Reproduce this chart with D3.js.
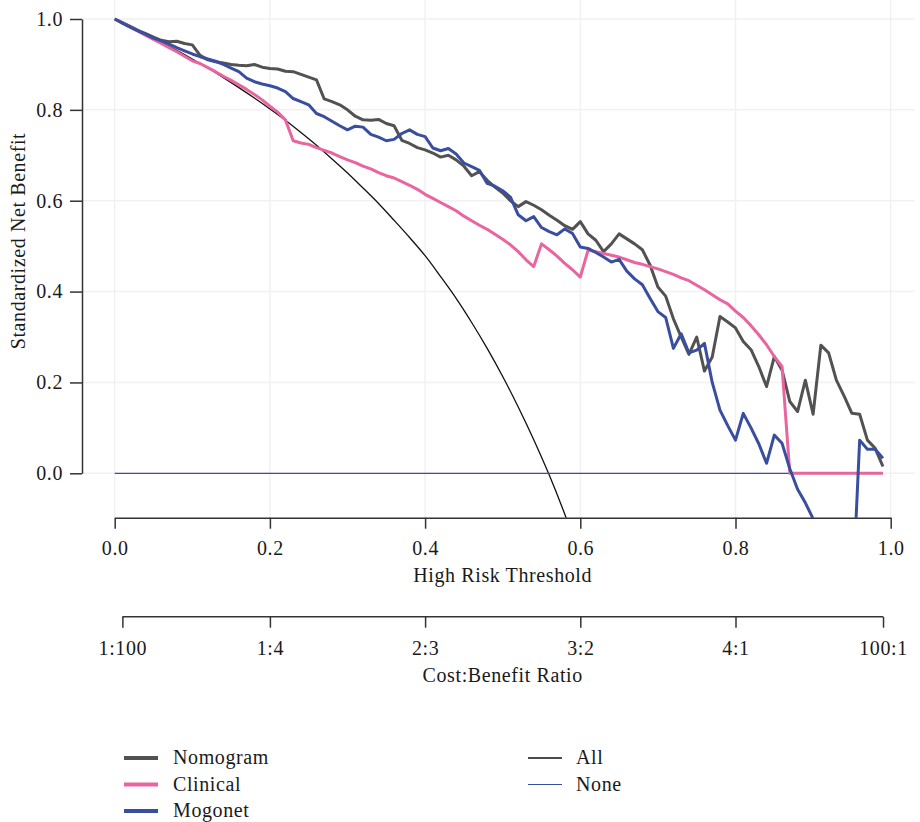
<!DOCTYPE html>
<html>
<head>
<meta charset="utf-8">
<script src="https://cdn.jsdelivr.net/npm/d3@7"></script>
<style>
  body { margin: 0; background: #fff; }
  svg text { font-family: "Liberation Serif", "Times New Roman", serif; fill: #1a1a1a; letter-spacing: 0.6px; }
</style>
</head>
<body>
<svg id="chart" width="920" height="822"></svg>
<script>
// thresholds 0.00 .. 0.99 (step 0.01)
const thresholds = d3.range(100).map(i => i / 100);

const nomogram = [
  1.000, 0.992, 0.984, 0.975, 0.968, 0.960, 0.953, 0.950, 0.951, 0.946,
  0.943, 0.920, 0.910, 0.906, 0.903, 0.900, 0.898, 0.897, 0.900, 0.894,
  0.891, 0.890, 0.885, 0.884, 0.878, 0.872, 0.866, 0.824, 0.818, 0.811,
  0.800, 0.786, 0.778, 0.777, 0.779, 0.770, 0.765, 0.733, 0.726, 0.717,
  0.712, 0.705, 0.696, 0.700, 0.690, 0.676, 0.655, 0.664, 0.645, 0.630,
  0.617, 0.600, 0.587, 0.598, 0.590, 0.580, 0.568, 0.557, 0.545, 0.537,
  0.554, 0.527, 0.513, 0.488, 0.505, 0.527, 0.516, 0.505, 0.492, 0.458,
  0.410, 0.390, 0.340, 0.300, 0.262, 0.300, 0.225, 0.256, 0.345, 0.333,
  0.320, 0.290, 0.272, 0.235, 0.191, 0.257, 0.227, 0.158, 0.136, 0.205,
  0.130, 0.282, 0.265, 0.205, 0.170, 0.132, 0.130, 0.073, 0.055, 0.015
];

const clinical = [
  1.000, 0.991, 0.982, 0.973, 0.964, 0.955, 0.946, 0.937, 0.928, 0.918,
  0.908, 0.902, 0.893, 0.884, 0.874, 0.865, 0.855, 0.845, 0.834, 0.822,
  0.808, 0.795, 0.778, 0.732, 0.727, 0.724, 0.717, 0.711, 0.705, 0.697,
  0.690, 0.684, 0.676, 0.670, 0.662, 0.655, 0.650, 0.642, 0.634, 0.625,
  0.614, 0.605, 0.596, 0.587, 0.578, 0.566, 0.556, 0.546, 0.537, 0.526,
  0.515, 0.503, 0.488, 0.470, 0.455, 0.505, 0.492, 0.478, 0.462, 0.448,
  0.432, 0.491, 0.488, 0.484, 0.480, 0.476, 0.470, 0.464, 0.460, 0.455,
  0.450, 0.444, 0.438, 0.430, 0.424, 0.414, 0.404, 0.393, 0.382, 0.373,
  0.357, 0.343, 0.325, 0.305, 0.283, 0.257, 0.235, 0.000, 0.000, 0.000,
  0.000, 0.000, 0.000, 0.000, 0.000, 0.000, 0.000, 0.000, 0.000, 0.000
];

const mogonet = [
  1.000, 0.991, 0.982, 0.974, 0.966, 0.958, 0.952, 0.945, 0.937, 0.930,
  0.923, 0.917, 0.912, 0.907, 0.900, 0.892, 0.884, 0.870, 0.862, 0.857,
  0.853, 0.848, 0.840, 0.825, 0.818, 0.811, 0.792, 0.785, 0.775, 0.765,
  0.756, 0.764, 0.762, 0.746, 0.740, 0.732, 0.735, 0.748, 0.756, 0.746,
  0.741, 0.716, 0.710, 0.715, 0.703, 0.683, 0.675, 0.667, 0.638, 0.632,
  0.622, 0.608, 0.569, 0.556, 0.565, 0.541, 0.532, 0.525, 0.538, 0.528,
  0.498, 0.495, 0.486, 0.476, 0.465, 0.471, 0.445, 0.428, 0.415, 0.385,
  0.356, 0.343, 0.275, 0.307, 0.265, 0.271, 0.286, 0.200, 0.139, 0.105,
  0.073, 0.132, 0.100, 0.065, 0.022, 0.084, 0.066, 0.010, -0.035, -0.065,
  -0.100, -0.140, -0.180, -0.210, -0.250, -0.300, 0.073, 0.053, 0.053, 0.033
];

// treat-all reference curve
const allThresholds = [0, 0.02, 0.04, 0.06, 0.08, 0.10, 0.12, 0.14, 0.16, 0.18,
  0.20, 0.22, 0.24, 0.26, 0.28, 0.30, 0.32, 0.34, 0.36, 0.38, 0.40, 0.42,
  0.44, 0.46, 0.48, 0.50, 0.52, 0.54, 0.56, 0.58, 0.60];
const allValues = [1.000, 0.984, 0.967, 0.949, 0.931, 0.912, 0.892, 0.871, 0.849, 0.826,
  0.802, 0.777, 0.750, 0.722, 0.692, 0.661, 0.628, 0.594, 0.557, 0.519, 0.479, 0.433,
  0.385, 0.332, 0.275, 0.213, 0.146, 0.074, -0.004, -0.090, -0.184];

const noneThresholds = [0, 0.99];
const noneValues = [0, 0];

const xTicks = [0, 0.2, 0.4, 0.6, 0.8, 1.0];
const yTicks = [0, 0.2, 0.4, 0.6, 0.8, 1.0];
const costTicks = [1 / 101, 0.2, 0.4, 0.6, 0.8, 100 / 101];
const costLabels = ["1:100", "1:4", "2:3", "3:2", "4:1", "100:1"];

const series = [
  { name: "Nomogram", values: nomogram, color: "#525252" },
  { name: "Clinical", values: clinical, color: "#e8659f" },
  { name: "Mogonet", values: mogonet, color: "#3a4ea0" }
];

const svg = d3.select("#chart");
const x = d3.scaleLinear().domain([0, 1]).range([114.7, 890.7]);
const y = d3.scaleLinear().domain([0, 1]).range([473.3, 19]);
const plotBottom = 517.7;
const gridColor = "#f1f1f1";

// grid
svg.append("g").selectAll("line").data(yTicks).join("line")
  .attr("x1", 82).attr("x2", 915)
  .attr("y1", d => y(d)).attr("y2", d => y(d))
  .attr("stroke", gridColor).attr("stroke-width", 1.5);
svg.append("g").selectAll("line").data(xTicks).join("line")
  .attr("x1", d => x(d)).attr("x2", d => x(d))
  .attr("y1", 0).attr("y2", plotBottom)
  .attr("stroke", gridColor).attr("stroke-width", 1.5);

svg.append("clipPath").attr("id", "clip")
  .append("rect").attr("x", 0).attr("y", 0).attr("width", 920).attr("height", plotBottom);

const plot = svg.append("g").attr("clip-path", "url(#clip)");

const line = d3.line().x(d => x(d[0])).y(d => y(d[1]));
const smooth = d3.line().x(d => x(d[0])).y(d => y(d[1])).curve(d3.curveMonotoneX);

plot.append("path")
  .attr("d", smooth(d3.zip(allThresholds, allValues)))
  .attr("fill", "none").attr("stroke", "#111").attr("stroke-width", 1.3);
plot.append("path")
  .attr("d", line(d3.zip(noneThresholds, noneValues)))
  .attr("fill", "none").attr("stroke", "#3a4ea0").attr("stroke-width", 1.2);

series.forEach(s => {
  plot.append("path")
    .attr("d", line(d3.zip(thresholds, s.values)))
    .attr("fill", "none")
    .attr("stroke", s.color)
    .attr("stroke-width", 3)
    .attr("stroke-linejoin", "round");
});

// axes
function styleAxis(g) {
  g.selectAll("path, line").attr("stroke", "#333").attr("stroke-width", 1.5);
  g.selectAll("text").attr("font-size", 20).attr("fill", "#1a1a1a")
    .attr("font-family", "Liberation Serif, serif");
}

svg.append("g")
  .attr("transform", `translate(0,${plotBottom})`)
  .call(d3.axisBottom(x).tickValues(xTicks).tickFormat(d3.format(".1f"))
    .tickSize(11).tickSizeOuter(0).tickPadding(12))
  .call(styleAxis);

svg.append("g")
  .attr("transform", "translate(82,0)")
  .call(d3.axisLeft(y).tickValues(yTicks).tickFormat(d3.format(".1f"))
    .tickSize(12).tickSizeOuter(0).tickPadding(7))
  .call(styleAxis);

const costAxis = svg.append("g")
  .attr("transform", "translate(0,616.7)")
  .call(d3.axisBottom(x).tickValues(costTicks).tickFormat((d, i) => costLabels[i])
    .tickSize(11).tickPadding(13))
  .call(styleAxis);
costAxis.select(".domain").remove();
costAxis.append("line")
  .attr("x1", x(costTicks[0])).attr("x2", x(costTicks[costTicks.length - 1]))
  .attr("stroke", "#333").attr("stroke-width", 1.5);

// titles
svg.append("text").attr("x", 502.7).attr("y", 581.5)
  .attr("text-anchor", "middle").attr("font-size", 20).text("High Risk Threshold");
svg.append("text").attr("x", 502.7).attr("y", 681.5)
  .attr("text-anchor", "middle").attr("font-size", 20).text("Cost:Benefit Ratio");
svg.append("text")
  .attr("transform", "translate(25,241) rotate(-90)")
  .attr("text-anchor", "middle").attr("font-size", 20).text("Standardized Net Benefit");

// legend
const legendRows = [758, 784.5, 811];
series.forEach((s, i) => {
  svg.append("line")
    .attr("x1", 124).attr("x2", 158)
    .attr("y1", legendRows[i]).attr("y2", legendRows[i])
    .attr("stroke", s.color).attr("stroke-width", 4);
  svg.append("text").attr("x", 173).attr("y", legendRows[i] + 6)
    .attr("font-size", 20).text(s.name);
});
const refLegend = [
  { name: "All", color: "#111", width: 1.3 },
  { name: "None", color: "#3a4ea0", width: 1.2 }
];
refLegend.forEach((r, i) => {
  svg.append("line")
    .attr("x1", 528).attr("x2", 562)
    .attr("y1", legendRows[i]).attr("y2", legendRows[i])
    .attr("stroke", r.color).attr("stroke-width", r.width);
  svg.append("text").attr("x", 576).attr("y", legendRows[i] + 6)
    .attr("font-size", 20).text(r.name);
});
</script>
</body>
</html>
